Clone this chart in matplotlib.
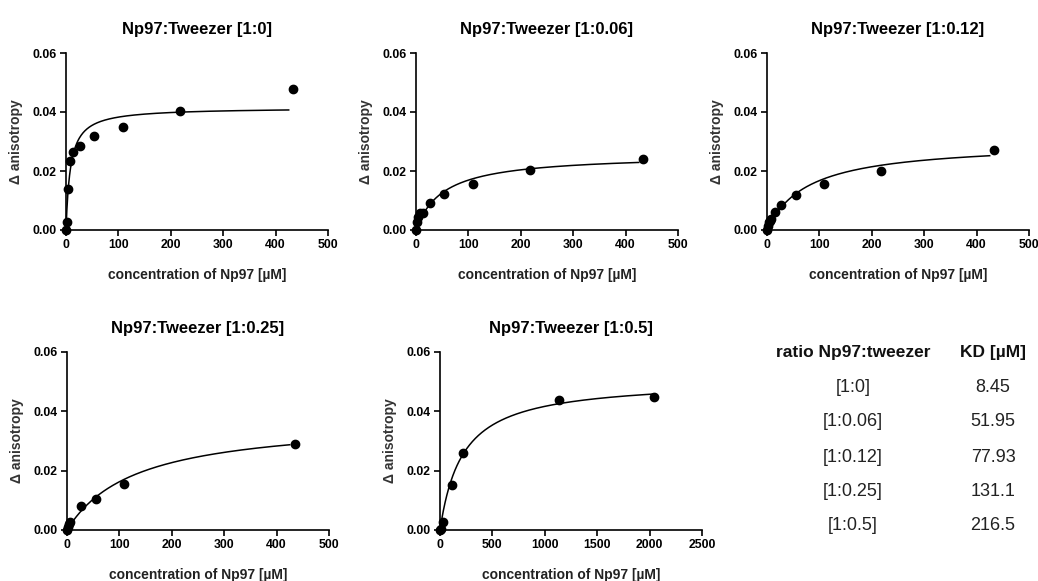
import numpy as np
import matplotlib
matplotlib.use("Agg")
from matplotlib import pyplot as plt

plt.rcParams['font.family'] = ['Liberation Sans', 'DejaVu Sans']

##############################################################################
# anisotropy titrations, Np97 against tweezer at different ratios

ratios = ["[1:0]", "[1:0.06]", "[1:0.12]", "[1:0.25]", "[1:0.5]"]
kd_values = [8.45, 51.95, 77.93, 131.1, 216.5]
kd_labels = ["8.45", "51.95", "77.93", "131.1", "216.5"]

# plateau of each one-site fit (Bmax)
bmax_values = [0.0415, 0.0257, 0.0298, 0.0376, 0.0507]
# last concentration the fit is drawn to
fit_end = [425, 425, 425, 425, 2030]

conc_1_0 = [0, 1.7, 3.4, 6.8, 13.6, 27.1, 54.3, 108.5, 217, 434]
aniso_1_0 = [0.0, 0.0028, 0.0138, 0.0234, 0.0265, 0.0286, 0.0319, 0.0349, 0.0403, 0.0477]

conc_1_006 = [0, 1.7, 3.4, 6.8, 13.6, 27.1, 54.3, 108.5, 217, 434]
aniso_1_006 = [0.0, 0.0028, 0.0045, 0.0057, 0.0059, 0.0093, 0.0121, 0.0156, 0.0204, 0.0241]

conc_1_012 = [0, 1.7, 3.0, 5.0, 7.0, 14.6, 27.4, 54.7, 108.8, 217, 433]
aniso_1_012 = [0.0, 0.0015, 0.0026, 0.0032, 0.0037, 0.0060, 0.0085, 0.0120, 0.0155, 0.0199, 0.0272]

conc_1_025 = [0, 1.9, 3.8, 6.4, 27.4, 54.8, 108.9, 435]
aniso_1_025 = [0.0, 0.0009, 0.0019, 0.0026, 0.0081, 0.0104, 0.0155, 0.0289]

conc_1_05 = [0, 7, 30, 117, 222, 1134, 2039]
aniso_1_05 = [0.0, 0.0002, 0.0026, 0.0152, 0.0261, 0.0437, 0.0450]

all_conc = [conc_1_0, conc_1_006, conc_1_012, conc_1_025, conc_1_05]
all_aniso = [aniso_1_0, aniso_1_006, aniso_1_012, aniso_1_025, aniso_1_05]
x_max = [500, 500, 500, 500, 2500]
x_step = [100, 100, 100, 100, 500]

W, H = 1038, 581
# axes boxes in pixels: left, top, width, height
boxes = [(66, 53, 262, 177), (416, 53, 262, 177), (767, 53, 262, 177),
         (67, 352, 262, 178), (440, 352, 262, 178)]


def one_site(x, bmax, kd):
    return bmax * x / (kd + x)


fig = plt.figure(figsize=(W / 100, H / 100), dpi=100)

for i in range(5):
    l, t, w, h = boxes[i]
    ax = fig.add_axes([l / W, (H - t - h) / H, w / W, h / H])

    ax.plot(all_conc[i], all_aniso[i], 'o', color='black', ms=6, clip_on=False, zorder=3)
    xx = np.linspace(0, fit_end[i], 500)
    ax.plot(xx, one_site(xx, bmax_values[i], kd_values[i]), color='black', lw=1.1, clip_on=False)

    ax.set_xlim(0, x_max[i])
    ax.set_ylim(0, 0.06)
    ax.set_xticks(np.arange(0, x_max[i] + 1, x_step[i]))
    ax.set_yticks([0, 0.02, 0.04, 0.06])
    ax.set_yticklabels(["0.00", "0.02", "0.04", "0.06"])

    for side in ['top', 'right']:
        ax.spines[side].set_visible(False)
    for side in ['left', 'bottom']:
        ax.spines[side].set_linewidth(1.2)
    ax.tick_params(direction='out', length=4.5, width=1.2, pad=2,
                   labelsize=8.8)
    for lab in ax.get_xticklabels() + ax.get_yticklabels():
        lab.set_fontweight('bold')

    ax.set_title("Np97:Tweezer " + ratios[i], fontsize=12, fontweight='bold', pad=14)
    ax.set_xlabel("concentration of Np97 [µM]", fontsize=10, fontweight='bold',
                  labelpad=12, color='#222222')
    ax.set_ylabel("Δ anisotropy", fontsize=10, fontweight='bold', labelpad=7,
                  color='#333333')

# KD summary table
col1_x, col2_x = 853 / W, 993 / W
fig.text(col1_x, 1 - 352 / H, "ratio Np97:tweezer", fontsize=12.5, fontweight='bold',
         ha='center', va='center', color='#111111')
fig.text(col2_x, 1 - 352 / H, "KD [µM]", fontsize=12.5, fontweight='bold',
         ha='center', va='center', color='#111111')
row_y = [387, 422, 457, 492, 526]
for r, kd, y in zip(ratios, kd_labels, row_y):
    fig.text(col1_x, 1 - y / H, r, fontsize=13, ha='center', va='center', color='#222222')
    fig.text(col2_x, 1 - y / H, kd, fontsize=13, ha='center', va='center', color='#222222')

fig.savefig("out.png", dpi=100)
